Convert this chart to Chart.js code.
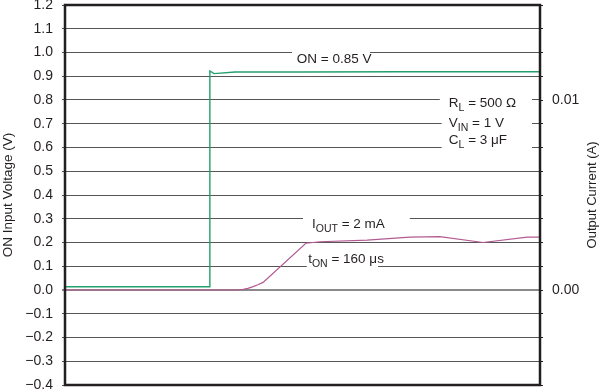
<!DOCTYPE html>
<html>
<head>
<meta charset="utf-8">
<script src="https://cdn.jsdelivr.net/npm/chart.js@4/dist/chart.umd.min.js"></script>
<style>
  html, body { margin: 0; padding: 0; background: #fff; }
  #wrap { width: 605px; height: 392px; }
</style>
</head>
<body>
<div id="wrap"><canvas id="c" width="605" height="392"></canvas></div>
<script>
// ---- Data (x = relative time units across the plot, 0..100) ----
const voltTime = [0, 30.5, 30.5, 31.4, 35.8, 49.5, 70.5, 100];
const voltValues = [0.014, 0.014, 0.922, 0.911, 0.918, 0.918, 0.919, 0.919];   // ON Input Voltage (V)

const currTime = [0, 35.4, 36.4, 37.5, 38.5, 39.6, 40.6, 41.7, 50.7, 53.7, 63.6, 72.6, 78.9, 88.0, 97.3, 100];
const currValues = [0, 0, 0.0000125, 0.0000375, 0.0000875, 0.000175, 0.000275, 0.0004,
                    0.00246, 0.00254, 0.00263, 0.00278, 0.00281, 0.0025, 0.00278, 0.00278]; // Output Current (A)

const leftTickMin = -0.4, leftTickMax = 1.2, leftStep = 0.1;
const rightTickMin = -0.005, rightTickMax = 0.015, rightStep = 0.00125;
const rightLabels = { '0.00': 0, '0.01': 0.01 };
const leftTitle = 'ON Input Voltage (V)';
const rightTitle = 'Output Current (A)';

// annotation texts: gap (x0,x1) on gridline value "line", text start x and baseline value
const annotations = [
  { parts: [['ON = 0.85 V']], line: 1.0, gap: [47.8, 64.2], x: 48.8, base: 0.956 },
  { parts: [['R'], ['L', 1], [' = 500 Ω']], line: 0.8, gap: [78.9, 98.3], x: 80.8, base: 0.772 },
  { parts: [['V'], ['IN', 1], [' = 1 V']], line: 0.7, gap: [79.3, 98.3], x: 80.8, base: 0.686 },
  { parts: [['C'], ['L', 1], [' = 3 μF']], line: 0.6, gap: [79.3, 98.3], x: 80.8, base: 0.613 },
  { parts: [['I'], ['OUT', 1], [' = 2 mA']], line: 0.3, gap: [50.1, 72.6], x: 52.0, base: 0.261 },
  { parts: [['t'], ['ON', 1], [' = 160 μs']], line: 0.1, gap: [50.9, 65.9], x: 51.2, base: 0.114 }
];

const FONT = '"Liberation Sans", Arial, Helvetica, sans-serif';
const INK = '#231f20';

const annotationPlugin = {
  id: 'notes',
  beforeDatasetsDraw(chart) {
    const { ctx } = chart;
    const xs = chart.scales.x, ys = chart.scales.y;
    ctx.save();
    annotations.forEach(a => {
      const ly = ys.getPixelForValue(a.line);
      const x0 = xs.getPixelForValue(a.gap[0]), x1 = xs.getPixelForValue(a.gap[1]);
      ctx.fillStyle = '#fff';
      ctx.fillRect(x0, ly - 2, x1 - x0, 4);
      let x = xs.getPixelForValue(a.x);
      const by = ys.getPixelForValue(a.base);
      ctx.fillStyle = INK;
      ctx.textBaseline = 'alphabetic';
      ctx.textAlign = 'left';
      a.parts.forEach(p => {
        const sub = p[1] === 1;
        ctx.font = (sub ? '10.5px ' : '13.5px ') + FONT;
        ctx.fillText(p[0], x, by + (sub ? 4 : 0));
        x += ctx.measureText(p[0]).width;
      });
    });
    ctx.restore();
  },
  afterDatasetsDraw(chart) {
    const { ctx, chartArea: a } = chart;
    ctx.save();
    ctx.strokeStyle = INK;
    ctx.lineWidth = 2.5;
    ctx.strokeRect(a.left, a.top, a.right - a.left, a.bottom - a.top);
    // right axis title, reading bottom-to-top like the left one
    ctx.translate(592, (a.top + a.bottom) / 2);
    ctx.rotate(-Math.PI / 2);
    ctx.fillStyle = INK;
    ctx.font = '13px ' + FONT;
    ctx.textAlign = 'center';
    ctx.textBaseline = 'middle';
    ctx.fillText(rightTitle, 0, 0);
    ctx.restore();
  }
};

const fmt = v => {
  const s = v.toFixed(1);
  return s === '-0.0' ? '0.0' : s.replace('-', '\u2212');
};

new Chart(document.getElementById('c'), {
  type: 'line',
  data: {
    datasets: [
      {
        label: 'ON Input Voltage',
        data: voltTime.map((t, i) => ({ x: t, y: voltValues[i] })),
        borderColor: '#23a06e',
        borderWidth: 1.4,
        pointRadius: 0,
        tension: 0,
        yAxisID: 'y'
      },
      {
        label: 'Output Current',
        data: currTime.map((t, i) => ({ x: t, y: currValues[i] })),
        borderColor: '#b35a92',
        borderWidth: 1.2,
        pointRadius: 0,
        tension: 0,
        yAxisID: 'y2'
      }
    ]
  },
  options: {
    responsive: false,
    animation: false,
    devicePixelRatio: 1,
    layout: { padding: { top: 5, bottom: 7, left: 0, right: 0 } },
    plugins: { legend: { display: false }, tooltip: { enabled: false } },
    scales: {
      x: { type: 'linear', min: 0, max: 100, display: false },
      y: {
        position: 'left',
        min: leftTickMin, max: leftTickMax,
        border: { display: false },
        grid: {
          tickLength: 3,
          color: ctx => (ctx.tick && Math.abs(ctx.tick.value) < 1e-9 ? '#8a8a8a' : '#555'),
          lineWidth: ctx => (ctx.tick && Math.abs(ctx.tick.value) < 1e-9 ? 2 : 1)
        },
        ticks: {
          stepSize: leftStep,
          padding: 9,
          color: INK,
          font: { family: FONT, size: 14, lineHeight: 1 },
          callback: v => fmt(v)
        },
        title: {
          display: true,
          text: leftTitle,
          color: INK,
          font: { family: FONT, size: 13.5 },
          padding: 0
        },
        afterFit: s => { s.width = 65; s.paddingTop = 0; s.paddingBottom = 0; }
      },
      y2: {
        position: 'right',
        min: rightTickMin, max: rightTickMax,
        border: { display: false },
        grid: { drawOnChartArea: false, tickLength: 3, color: INK },
        ticks: {
          stepSize: rightStep,
          padding: 9,
          color: INK,
          font: { family: FONT, size: 14, lineHeight: 1 },
          callback: v => {
            for (const k in rightLabels) if (Math.abs(v - rightLabels[k]) < 1e-9) return k;
            return '';
          }
        },
        title: { display: false },
        afterFit: s => { s.width = 65; s.paddingTop = 0; s.paddingBottom = 0; }
      }
    }
  },
  plugins: [annotationPlugin]
});
</script>
</body>
</html>
